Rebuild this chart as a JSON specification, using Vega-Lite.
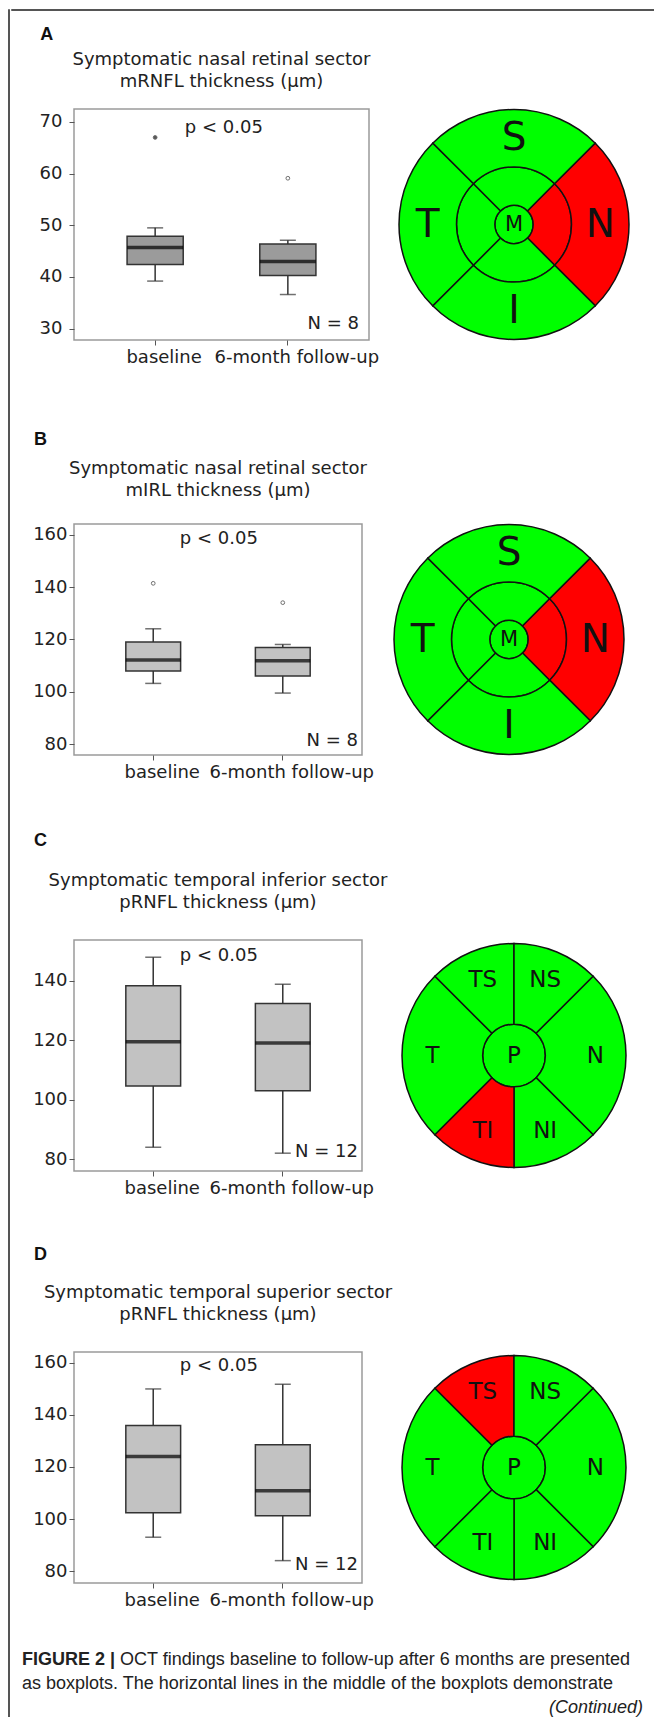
{
  "$schema": "https://vega.github.io/schema/vega-lite/v6.json",
  "padding": {"left": 7, "top": 3, "right": 0, "bottom": 0},
  "background": "white",
  "config": {"view": {"stroke": null}, "font": "DejaVu Sans"},
  "datasets": {
    "boxes": [
      {"panel": "A", "time": "baseline", "lower": 39.2, "q1": 42.4, "median": 45.7, "q3": 47.9, "upper": 49.5},
      {"panel": "A", "time": "6-month follow-up", "lower": 36.6, "q1": 40.3, "median": 43.0, "q3": 46.4, "upper": 47.1},
      {"panel": "B", "time": "baseline", "lower": 103.2, "q1": 107.9, "median": 112.2, "q3": 119.0, "upper": 124.1},
      {"panel": "B", "time": "6-month follow-up", "lower": 99.5, "q1": 106.0, "median": 111.9, "q3": 116.9, "upper": 118.1},
      {"panel": "C", "time": "baseline", "lower": 84.0, "q1": 104.6, "median": 119.5, "q3": 138.4, "upper": 148.0},
      {"panel": "C", "time": "6-month follow-up", "lower": 82.0, "q1": 103.0, "median": 119.1, "q3": 132.4, "upper": 138.9},
      {"panel": "D", "time": "baseline", "lower": 93.0, "q1": 102.4, "median": 124.0, "q3": 135.9, "upper": 150.0},
      {"panel": "D", "time": "6-month follow-up", "lower": 84.0, "q1": 101.3, "median": 110.9, "q3": 128.5, "upper": 151.8}
    ],
    "outliers": [
      {"panel": "A", "time": "baseline", "value": 67.0, "kind": "filled"},
      {"panel": "A", "time": "6-month follow-up", "value": 59.1, "kind": "open"},
      {"panel": "B", "time": "baseline", "value": 141.5, "kind": "open"},
      {"panel": "B", "time": "6-month follow-up", "value": 134.1, "kind": "open"}
    ],
    "notes": [
      {"panel": "A", "p": "p < 0.05", "n": "N = 8"},
      {"panel": "B", "p": "p < 0.05", "n": "N = 8"},
      {"panel": "C", "p": "p < 0.05", "n": "N = 12"},
      {"panel": "D", "p": "p < 0.05", "n": "N = 12"}
    ],
    "macula": [
      {"panel": "A", "t0": 0, "t1": 360, "r0": 0, "r1": 0.5, "status": "normal", "label": "M"},
      {"panel": "A", "t0": -45, "t1": 45, "r0": 0.5, "r1": 1.5, "status": "normal", "label": ""},
      {"panel": "A", "t0": 45, "t1": 135, "r0": 0.5, "r1": 1.5, "status": "significant", "label": ""},
      {"panel": "A", "t0": 135, "t1": 225, "r0": 0.5, "r1": 1.5, "status": "normal", "label": ""},
      {"panel": "A", "t0": 225, "t1": 315, "r0": 0.5, "r1": 1.5, "status": "normal", "label": ""},
      {"panel": "A", "t0": -45, "t1": 45, "r0": 1.5, "r1": 3, "status": "normal", "label": "S"},
      {"panel": "A", "t0": 45, "t1": 135, "r0": 1.5, "r1": 3, "status": "significant", "label": "N"},
      {"panel": "A", "t0": 135, "t1": 225, "r0": 1.5, "r1": 3, "status": "normal", "label": "I"},
      {"panel": "A", "t0": 225, "t1": 315, "r0": 1.5, "r1": 3, "status": "normal", "label": "T"},
      {"panel": "B", "t0": 0, "t1": 360, "r0": 0, "r1": 0.5, "status": "normal", "label": "M"},
      {"panel": "B", "t0": -45, "t1": 45, "r0": 0.5, "r1": 1.5, "status": "normal", "label": ""},
      {"panel": "B", "t0": 45, "t1": 135, "r0": 0.5, "r1": 1.5, "status": "significant", "label": ""},
      {"panel": "B", "t0": 135, "t1": 225, "r0": 0.5, "r1": 1.5, "status": "normal", "label": ""},
      {"panel": "B", "t0": 225, "t1": 315, "r0": 0.5, "r1": 1.5, "status": "normal", "label": ""},
      {"panel": "B", "t0": -45, "t1": 45, "r0": 1.5, "r1": 3, "status": "normal", "label": "S"},
      {"panel": "B", "t0": 45, "t1": 135, "r0": 1.5, "r1": 3, "status": "significant", "label": "N"},
      {"panel": "B", "t0": 135, "t1": 225, "r0": 1.5, "r1": 3, "status": "normal", "label": "I"},
      {"panel": "B", "t0": 225, "t1": 315, "r0": 1.5, "r1": 3, "status": "normal", "label": "T"}
    ],
    "peripapillary": [
      {"panel": "C", "t0": 0, "t1": 360, "r0": 0, "r1": 0.28, "status": "normal", "label": "P"},
      {"panel": "C", "t0": -45, "t1": 0, "r0": 0.28, "r1": 1, "status": "normal", "label": "TS"},
      {"panel": "C", "t0": 0, "t1": 45, "r0": 0.28, "r1": 1, "status": "normal", "label": "NS"},
      {"panel": "C", "t0": 45, "t1": 135, "r0": 0.28, "r1": 1, "status": "normal", "label": "N"},
      {"panel": "C", "t0": 135, "t1": 180, "r0": 0.28, "r1": 1, "status": "normal", "label": "NI"},
      {"panel": "C", "t0": 180, "t1": 225, "r0": 0.28, "r1": 1, "status": "significant", "label": "TI"},
      {"panel": "C", "t0": 225, "t1": 315, "r0": 0.28, "r1": 1, "status": "normal", "label": "T"},
      {"panel": "D", "t0": 0, "t1": 360, "r0": 0, "r1": 0.28, "status": "normal", "label": "P"},
      {"panel": "D", "t0": -45, "t1": 0, "r0": 0.28, "r1": 1, "status": "significant", "label": "TS"},
      {"panel": "D", "t0": 0, "t1": 45, "r0": 0.28, "r1": 1, "status": "normal", "label": "NS"},
      {"panel": "D", "t0": 45, "t1": 135, "r0": 0.28, "r1": 1, "status": "normal", "label": "N"},
      {"panel": "D", "t0": 135, "t1": 180, "r0": 0.28, "r1": 1, "status": "normal", "label": "NI"},
      {"panel": "D", "t0": 180, "t1": 225, "r0": 0.28, "r1": 1, "status": "normal", "label": "TI"},
      {"panel": "D", "t0": 225, "t1": 315, "r0": 0.28, "r1": 1, "status": "normal", "label": "T"}
    ],
    "caption": [
      {"line": 1, "part": "bold", "text": "FIGURE 2 |"},
      {"line": 1, "part": "body1", "text": "OCT findings baseline to follow-up after 6 months are presented"},
      {"line": 2, "part": "body2", "text": "as boxplots. The horizontal lines in the middle of the boxplots demonstrate"},
      {"line": 3, "part": "cont", "text": "(Continued)"}
    ]
  },
  "spacing": 0,
  "hconcat": [
    {"width": 1, "height": 1714, "view": {"stroke": "#555", "strokeWidth": 1}, "data": {"values": [{}]}, "mark": {"type": "text", "text": ""}, "encoding": {}},
    {"spacing": 41, "vconcat": [
      {"spacing": 11, "vconcat": [
        {"width": 646, "height": 1, "view": {"stroke": "#555", "strokeWidth": 1}, "data": {"values": [{}]}, "mark": {"type": "text", "text": ""}, "encoding": {}},
        {"spacing": 7, "hconcat": [
          {"width": 13, "height": 1, "data": {"values": [{}]}, "mark": {"type": "text", "text": ""}, "encoding": {}},
          {"spacing": 50, "vconcat": [
            {"spacing": 64, "vconcat": [
              {"title": {"text": "A", "anchor": "start", "frame": "bounds", "dx": 2, "offset": 6, "font": "Liberation Sans", "fontSize": 18, "fontWeight": "bold", "color": "#111"},
               "bounds": "flush", "spacing": 29.5,
               "hconcat": [
                {"width": 295, "height": 231,
                 "title": {"text": ["Symptomatic nasal retinal sector", "mRNFL thickness (μm)"], "anchor": "middle", "frame": "group", "font": "DejaVu Sans", "fontSize": 18, "fontWeight": "normal", "color": "#222", "lineHeight": 22, "offset": 18},
                 "view": {"stroke": "#9a9a9a", "strokeWidth": 1.5},
                 "resolve": {"scale": {"x": "independent"}},
                 "layer": [
                  {"data": {"name": "boxes"}, "transform": [{"filter": "datum.panel === 'A'"}],
                   "layer": [
                    {"mark": {"type": "rule", "color": "#333", "strokeWidth": 1.5},
                     "encoding": {"x": {"field": "time", "type": "nominal", "scale": {"domain": ["baseline", "6-month follow-up"], "paddingInner": 0.577, "paddingOuter": 0.4}, "axis": {"title": null, "domain": false, "tickSize": 5, "tickColor": "#555", "labelAngle": 0, "labelFont": "DejaVu Sans", "labelFontSize": 18, "labelColor": "#222", "labelPadding": 3, "labelOffset": 9}},
                      "y": {"field": "lower", "type": "quantitative", "scale": {"domain": [27.8, 72.5], "nice": false, "zero": false}, "axis": {"title": null, "values": [30, 40, 50, 60, 70], "domain": false, "grid": false, "tickSize": 5, "tickColor": "#555", "labelFont": "DejaVu Sans", "labelFontSize": 18, "labelColor": "#222", "labelPadding": 7}},
                      "y2": {"field": "q1"}}},
                    {"mark": {"type": "rule", "color": "#333", "strokeWidth": 1.5},
                     "encoding": {"x": {"field": "time", "type": "nominal"}, "y": {"field": "q3", "type": "quantitative"}, "y2": {"field": "upper"}}},
                    {"mark": {"type": "tick", "color": "#333", "size": 16, "thickness": 1.5, "orient": "horizontal"},
                     "encoding": {"x": {"field": "time", "type": "nominal"}, "y": {"field": "lower", "type": "quantitative"}}},
                    {"mark": {"type": "tick", "color": "#333", "size": 16, "thickness": 1.5, "orient": "horizontal"},
                     "encoding": {"x": {"field": "time", "type": "nominal"}, "y": {"field": "upper", "type": "quantitative"}}},
                    {"mark": {"type": "bar", "fill": "#9b9b9b", "stroke": "#333", "strokeWidth": 1.5},
                     "encoding": {"x": {"field": "time", "type": "nominal"}, "y": {"field": "q1", "type": "quantitative"}, "y2": {"field": "q3"}}},
                    {"mark": {"type": "tick", "color": "#000", "size": 56, "thickness": 3.5, "orient": "horizontal"},
                     "encoding": {"x": {"field": "time", "type": "nominal"}, "y": {"field": "median", "type": "quantitative"}}},
                    {"data": {"name": "outliers"}, "transform": [{"filter": "datum.panel === 'A'"}], "mark": {"type": "point", "filled": true, "size": 14, "stroke": "#333", "strokeWidth": 1},
                     "encoding": {"x": {"field": "time", "type": "nominal"}, "y": {"field": "value", "type": "quantitative"}, "fill": {"field": "kind", "type": "nominal", "scale": {"domain": ["filled", "open"], "range": ["#111111", "#ffffff"]}, "legend": null}}}
                   ]},
                  {"data": {"name": "notes"}, "transform": [{"filter": "datum.panel === 'A'"}],
                   "layer": [
                    {"mark": {"type": "text", "font": "DejaVu Sans", "fontSize": 18, "color": "#222", "align": "center", "baseline": "middle"},
                     "encoding": {"x": {"datum": 0.508, "type": "quantitative", "scale": {"domain": [0, 1], "nice": false, "zero": false}, "axis": null}, "y": {"datum": 68.8, "type": "quantitative"}, "text": {"field": "p"}}},
                    {"mark": {"type": "text", "font": "DejaVu Sans", "fontSize": 18, "color": "#222", "align": "right", "baseline": "middle"},
                     "encoding": {"x": {"datum": 0.966, "type": "quantitative"}, "y": {"datum": 30.85, "type": "quantitative"}, "text": {"field": "n"}}}
                   ]}
                 ]},
                {"width": 231, "height": 231, "view": {"stroke": null},
                 "data": {"name": "macula"}, "transform": [{"filter": "datum.panel === 'A'"}],
                 "layer": [
                  {"mark": {"type": "arc", "stroke": "#111", "strokeWidth": 1.5},
                   "encoding": {"theta": {"field": "t0", "type": "quantitative", "stack": null, "scale": {"domain": [0, 360], "range": [0, 6.283185307179586]}}, "theta2": {"field": "t1"},
                    "radius": {"field": "r1", "type": "quantitative", "scale": {"type": "linear", "domain": [0, 3], "range": [0, 115], "zero": true}}, "radius2": {"field": "r0"},
                    "color": {"field": "status", "type": "nominal", "scale": {"domain": ["normal", "significant"], "range": ["#00ff00", "#ff0000"]}, "legend": null}}},
                  {"transform": [{"filter": "datum.label !== '' && datum.r0 > 0"}, {"calculate": "(datum.t0 + datum.t1) / 2", "as": "tm"}, {"calculate": "(datum.r0 + datum.r1) / 2", "as": "rm"}],
                   "mark": {"type": "text", "font": "DejaVu Sans", "fontSize": 39, "color": "#111", "align": "center", "baseline": "middle"},
                   "encoding": {"theta": {"field": "tm", "type": "quantitative", "stack": null}, "radius": {"field": "rm", "type": "quantitative"}, "text": {"field": "label"}}},
                  {"transform": [{"filter": "datum.r0 === 0"}],
                   "mark": {"type": "text", "font": "DejaVu Sans", "fontSize": 21, "color": "#111", "align": "center", "baseline": "middle"},
                   "encoding": {"theta": {"field": "t0", "type": "quantitative", "stack": null}, "radius": {"field": "r0", "type": "quantitative"}, "text": {"field": "label"}}}
                 ]}
               ]},
              {"title": {"text": "B", "anchor": "start", "frame": "bounds", "dx": 2, "offset": 10, "font": "Liberation Sans", "fontSize": 18, "fontWeight": "bold", "color": "#111"},
               "bounds": "flush", "spacing": 31.5,
               "hconcat": [
                {"width": 288, "height": 231,
                 "title": {"text": ["Symptomatic nasal retinal sector", "mIRL thickness (μm)"], "anchor": "middle", "frame": "group", "font": "DejaVu Sans", "fontSize": 18, "fontWeight": "normal", "color": "#222", "lineHeight": 22, "offset": 24},
                 "view": {"stroke": "#9a9a9a", "strokeWidth": 1.5},
                 "resolve": {"scale": {"x": "independent"}},
                 "layer": [
                  {"data": {"name": "boxes"}, "transform": [{"filter": "datum.panel === 'B'"}],
                   "layer": [
                    {"mark": {"type": "rule", "color": "#333", "strokeWidth": 1.5},
                     "encoding": {"x": {"field": "time", "type": "nominal", "scale": {"domain": ["baseline", "6-month follow-up"], "paddingInner": 0.577, "paddingOuter": 0.4}, "axis": {"title": null, "domain": false, "tickSize": 5, "tickColor": "#555", "labelAngle": 0, "labelFont": "DejaVu Sans", "labelFontSize": 18, "labelColor": "#222", "labelPadding": 3, "labelOffset": 9}},
                      "y": {"field": "lower", "type": "quantitative", "scale": {"domain": [75.8, 164.2], "nice": false, "zero": false}, "axis": {"title": null, "values": [80, 100, 120, 140, 160], "domain": false, "grid": false, "tickSize": 5, "tickColor": "#555", "labelFont": "DejaVu Sans", "labelFontSize": 18, "labelColor": "#222", "labelPadding": 2}},
                      "y2": {"field": "q1"}}},
                    {"mark": {"type": "rule", "color": "#333", "strokeWidth": 1.5},
                     "encoding": {"x": {"field": "time", "type": "nominal"}, "y": {"field": "q3", "type": "quantitative"}, "y2": {"field": "upper"}}},
                    {"mark": {"type": "tick", "color": "#333", "size": 16, "thickness": 1.5, "orient": "horizontal"},
                     "encoding": {"x": {"field": "time", "type": "nominal"}, "y": {"field": "lower", "type": "quantitative"}}},
                    {"mark": {"type": "tick", "color": "#333", "size": 16, "thickness": 1.5, "orient": "horizontal"},
                     "encoding": {"x": {"field": "time", "type": "nominal"}, "y": {"field": "upper", "type": "quantitative"}}},
                    {"mark": {"type": "bar", "fill": "#c2c2c2", "stroke": "#333", "strokeWidth": 1.5},
                     "encoding": {"x": {"field": "time", "type": "nominal"}, "y": {"field": "q1", "type": "quantitative"}, "y2": {"field": "q3"}}},
                    {"mark": {"type": "tick", "color": "#000", "size": 55, "thickness": 3.5, "orient": "horizontal"},
                     "encoding": {"x": {"field": "time", "type": "nominal"}, "y": {"field": "median", "type": "quantitative"}}},
                    {"data": {"name": "outliers"}, "transform": [{"filter": "datum.panel === 'B'"}], "mark": {"type": "point", "filled": true, "size": 14, "stroke": "#333", "strokeWidth": 1},
                     "encoding": {"x": {"field": "time", "type": "nominal"}, "y": {"field": "value", "type": "quantitative"}, "fill": {"field": "kind", "type": "nominal", "scale": {"domain": ["filled", "open"], "range": ["#111111", "#ffffff"]}, "legend": null}}}
                   ]},
                  {"data": {"name": "notes"}, "transform": [{"filter": "datum.panel === 'B'"}],
                   "layer": [
                    {"mark": {"type": "text", "font": "DejaVu Sans", "fontSize": 18, "color": "#222", "align": "center", "baseline": "middle"},
                     "encoding": {"x": {"datum": 0.503, "type": "quantitative", "scale": {"domain": [0, 1], "nice": false, "zero": false}, "axis": null}, "y": {"datum": 158.5, "type": "quantitative"}, "text": {"field": "p"}}},
                    {"mark": {"type": "text", "font": "DejaVu Sans", "fontSize": 18, "color": "#222", "align": "right", "baseline": "middle"},
                     "encoding": {"x": {"datum": 0.986, "type": "quantitative"}, "y": {"datum": 81.3, "type": "quantitative"}, "text": {"field": "n"}}}
                   ]}
                 ]},
                {"width": 231, "height": 231, "view": {"stroke": null},
                 "data": {"name": "macula"}, "transform": [{"filter": "datum.panel === 'B'"}],
                 "layer": [
                  {"mark": {"type": "arc", "stroke": "#111", "strokeWidth": 1.5},
                   "encoding": {"theta": {"field": "t0", "type": "quantitative", "stack": null, "scale": {"domain": [0, 360], "range": [0, 6.283185307179586]}}, "theta2": {"field": "t1"},
                    "radius": {"field": "r1", "type": "quantitative", "scale": {"type": "linear", "domain": [0, 3], "range": [0, 115], "zero": true}}, "radius2": {"field": "r0"},
                    "color": {"field": "status", "type": "nominal", "scale": {"domain": ["normal", "significant"], "range": ["#00ff00", "#ff0000"]}, "legend": null}}},
                  {"transform": [{"filter": "datum.label !== '' && datum.r0 > 0"}, {"calculate": "(datum.t0 + datum.t1) / 2", "as": "tm"}, {"calculate": "(datum.r0 + datum.r1) / 2", "as": "rm"}],
                   "mark": {"type": "text", "font": "DejaVu Sans", "fontSize": 39, "color": "#111", "align": "center", "baseline": "middle"},
                   "encoding": {"theta": {"field": "tm", "type": "quantitative", "stack": null}, "radius": {"field": "rm", "type": "quantitative"}, "text": {"field": "label"}}},
                  {"transform": [{"filter": "datum.r0 === 0"}],
                   "mark": {"type": "text", "font": "DejaVu Sans", "fontSize": 21, "color": "#111", "align": "center", "baseline": "middle"},
                   "encoding": {"theta": {"field": "t0", "type": "quantitative", "stack": null}, "radius": {"field": "r0", "type": "quantitative"}, "text": {"field": "label"}}}
                 ]}
               ]}
            ]},
            {"spacing": 48, "vconcat": [
              {"title": {"text": "C", "anchor": "start", "frame": "bounds", "dx": 2, "offset": 21, "font": "Liberation Sans", "fontSize": 18, "fontWeight": "bold", "color": "#111"},
               "bounds": "flush", "spacing": 36.5,
               "hconcat": [
                {"width": 288, "height": 231,
                 "title": {"text": ["Symptomatic temporal inferior sector", "pRNFL thickness (μm)"], "anchor": "middle", "frame": "group", "font": "DejaVu Sans", "fontSize": 18, "fontWeight": "normal", "color": "#222", "lineHeight": 22, "offset": 28},
                 "view": {"stroke": "#9a9a9a", "strokeWidth": 1.5},
                 "resolve": {"scale": {"x": "independent"}},
                 "layer": [
                  {"data": {"name": "boxes"}, "transform": [{"filter": "datum.panel === 'C'"}],
                   "layer": [
                    {"mark": {"type": "rule", "color": "#333", "strokeWidth": 1.5},
                     "encoding": {"x": {"field": "time", "type": "nominal", "scale": {"domain": ["baseline", "6-month follow-up"], "paddingInner": 0.577, "paddingOuter": 0.4}, "axis": {"title": null, "domain": false, "tickSize": 5, "tickColor": "#555", "labelAngle": 0, "labelFont": "DejaVu Sans", "labelFontSize": 18, "labelColor": "#222", "labelPadding": 3, "labelOffset": 9}},
                      "y": {"field": "lower", "type": "quantitative", "scale": {"domain": [76, 153.8], "nice": false, "zero": false}, "axis": {"title": null, "values": [80, 100, 120, 140], "domain": false, "grid": false, "tickSize": 5, "tickColor": "#555", "labelFont": "DejaVu Sans", "labelFontSize": 18, "labelColor": "#222", "labelPadding": 2}},
                      "y2": {"field": "q1"}}},
                    {"mark": {"type": "rule", "color": "#333", "strokeWidth": 1.5},
                     "encoding": {"x": {"field": "time", "type": "nominal"}, "y": {"field": "q3", "type": "quantitative"}, "y2": {"field": "upper"}}},
                    {"mark": {"type": "tick", "color": "#333", "size": 16, "thickness": 1.5, "orient": "horizontal"},
                     "encoding": {"x": {"field": "time", "type": "nominal"}, "y": {"field": "lower", "type": "quantitative"}}},
                    {"mark": {"type": "tick", "color": "#333", "size": 16, "thickness": 1.5, "orient": "horizontal"},
                     "encoding": {"x": {"field": "time", "type": "nominal"}, "y": {"field": "upper", "type": "quantitative"}}},
                    {"mark": {"type": "bar", "fill": "#c2c2c2", "stroke": "#333", "strokeWidth": 1.5},
                     "encoding": {"x": {"field": "time", "type": "nominal"}, "y": {"field": "q1", "type": "quantitative"}, "y2": {"field": "q3"}}},
                    {"mark": {"type": "tick", "color": "#000", "size": 55, "thickness": 3.5, "orient": "horizontal"},
                     "encoding": {"x": {"field": "time", "type": "nominal"}, "y": {"field": "median", "type": "quantitative"}}}
                   ]},
                  {"data": {"name": "notes"}, "transform": [{"filter": "datum.panel === 'C'"}],
                   "layer": [
                    {"mark": {"type": "text", "font": "DejaVu Sans", "fontSize": 18, "color": "#222", "align": "center", "baseline": "middle"},
                     "encoding": {"x": {"datum": 0.503, "type": "quantitative", "scale": {"domain": [0, 1], "nice": false, "zero": false}, "axis": null}, "y": {"datum": 148.4, "type": "quantitative"}, "text": {"field": "p"}}},
                    {"mark": {"type": "text", "font": "DejaVu Sans", "fontSize": 18, "color": "#222", "align": "right", "baseline": "middle"},
                     "encoding": {"x": {"datum": 0.986, "type": "quantitative"}, "y": {"datum": 82.3, "type": "quantitative"}, "text": {"field": "n"}}}
                   ]}
                 ]},
                {"width": 231, "height": 231, "view": {"stroke": null},
                 "data": {"name": "peripapillary"}, "transform": [{"filter": "datum.panel === 'C'"}],
                 "layer": [
                  {"mark": {"type": "arc", "stroke": "#111", "strokeWidth": 1.5},
                   "encoding": {"theta": {"field": "t0", "type": "quantitative", "stack": null, "scale": {"domain": [0, 360], "range": [0, 6.283185307179586]}}, "theta2": {"field": "t1"},
                    "radius": {"field": "r1", "type": "quantitative", "scale": {"type": "linear", "domain": [0, 1], "range": [0, 112], "zero": true}}, "radius2": {"field": "r0"},
                    "color": {"field": "status", "type": "nominal", "scale": {"domain": ["normal", "significant"], "range": ["#00ff00", "#ff0000"]}, "legend": null}}},
                  {"transform": [{"filter": "datum.r0 > 0"}, {"calculate": "(datum.t0 + datum.t1) / 2", "as": "tm"}, {"calculate": "datum.r0 + 0.62 * (datum.r1 - datum.r0)", "as": "rm"}],
                   "mark": {"type": "text", "font": "DejaVu Sans", "fontSize": 23, "color": "#111", "align": "center", "baseline": "middle"},
                   "encoding": {"theta": {"field": "tm", "type": "quantitative", "stack": null}, "radius": {"field": "rm", "type": "quantitative"}, "text": {"field": "label"}}},
                  {"transform": [{"filter": "datum.r0 === 0"}],
                   "mark": {"type": "text", "font": "DejaVu Sans", "fontSize": 23, "color": "#111", "align": "center", "baseline": "middle"},
                   "encoding": {"theta": {"field": "t0", "type": "quantitative", "stack": null}, "radius": {"field": "r0", "type": "quantitative"}, "text": {"field": "label"}}}
                 ]}
               ]},
              {"title": {"text": "D", "anchor": "start", "frame": "bounds", "dx": 2, "offset": 19, "font": "Liberation Sans", "fontSize": 18, "fontWeight": "bold", "color": "#111"},
               "bounds": "flush", "spacing": 36.5,
               "hconcat": [
                {"width": 288, "height": 231,
                 "title": {"text": ["Symptomatic temporal superior sector", "pRNFL thickness (μm)"], "anchor": "middle", "frame": "group", "font": "DejaVu Sans", "fontSize": 18, "fontWeight": "normal", "color": "#222", "lineHeight": 22, "offset": 28},
                 "view": {"stroke": "#9a9a9a", "strokeWidth": 1.5},
                 "resolve": {"scale": {"x": "independent"}},
                 "layer": [
                  {"data": {"name": "boxes"}, "transform": [{"filter": "datum.panel === 'D'"}],
                   "layer": [
                    {"mark": {"type": "rule", "color": "#333", "strokeWidth": 1.5},
                     "encoding": {"x": {"field": "time", "type": "nominal", "scale": {"domain": ["baseline", "6-month follow-up"], "paddingInner": 0.577, "paddingOuter": 0.4}, "axis": {"title": null, "domain": false, "tickSize": 5, "tickColor": "#555", "labelAngle": 0, "labelFont": "DejaVu Sans", "labelFontSize": 18, "labelColor": "#222", "labelPadding": 3, "labelOffset": 9}},
                      "y": {"field": "lower", "type": "quantitative", "scale": {"domain": [75.4, 164.2], "nice": false, "zero": false}, "axis": {"title": null, "values": [80, 100, 120, 140, 160], "domain": false, "grid": false, "tickSize": 5, "tickColor": "#555", "labelFont": "DejaVu Sans", "labelFontSize": 18, "labelColor": "#222", "labelPadding": 2}},
                      "y2": {"field": "q1"}}},
                    {"mark": {"type": "rule", "color": "#333", "strokeWidth": 1.5},
                     "encoding": {"x": {"field": "time", "type": "nominal"}, "y": {"field": "q3", "type": "quantitative"}, "y2": {"field": "upper"}}},
                    {"mark": {"type": "tick", "color": "#333", "size": 16, "thickness": 1.5, "orient": "horizontal"},
                     "encoding": {"x": {"field": "time", "type": "nominal"}, "y": {"field": "lower", "type": "quantitative"}}},
                    {"mark": {"type": "tick", "color": "#333", "size": 16, "thickness": 1.5, "orient": "horizontal"},
                     "encoding": {"x": {"field": "time", "type": "nominal"}, "y": {"field": "upper", "type": "quantitative"}}},
                    {"mark": {"type": "bar", "fill": "#c2c2c2", "stroke": "#333", "strokeWidth": 1.5},
                     "encoding": {"x": {"field": "time", "type": "nominal"}, "y": {"field": "q1", "type": "quantitative"}, "y2": {"field": "q3"}}},
                    {"mark": {"type": "tick", "color": "#000", "size": 55, "thickness": 3.5, "orient": "horizontal"},
                     "encoding": {"x": {"field": "time", "type": "nominal"}, "y": {"field": "median", "type": "quantitative"}}}
                   ]},
                  {"data": {"name": "notes"}, "transform": [{"filter": "datum.panel === 'D'"}],
                   "layer": [
                    {"mark": {"type": "text", "font": "DejaVu Sans", "fontSize": 18, "color": "#222", "align": "center", "baseline": "middle"},
                     "encoding": {"x": {"datum": 0.503, "type": "quantitative", "scale": {"domain": [0, 1], "nice": false, "zero": false}, "axis": null}, "y": {"datum": 158.7, "type": "quantitative"}, "text": {"field": "p"}}},
                    {"mark": {"type": "text", "font": "DejaVu Sans", "fontSize": 18, "color": "#222", "align": "right", "baseline": "middle"},
                     "encoding": {"x": {"datum": 0.986, "type": "quantitative"}, "y": {"datum": 82.3, "type": "quantitative"}, "text": {"field": "n"}}}
                   ]}
                 ]},
                {"width": 231, "height": 231, "view": {"stroke": null},
                 "data": {"name": "peripapillary"}, "transform": [{"filter": "datum.panel === 'D'"}],
                 "layer": [
                  {"mark": {"type": "arc", "stroke": "#111", "strokeWidth": 1.5},
                   "encoding": {"theta": {"field": "t0", "type": "quantitative", "stack": null, "scale": {"domain": [0, 360], "range": [0, 6.283185307179586]}}, "theta2": {"field": "t1"},
                    "radius": {"field": "r1", "type": "quantitative", "scale": {"type": "linear", "domain": [0, 1], "range": [0, 112], "zero": true}}, "radius2": {"field": "r0"},
                    "color": {"field": "status", "type": "nominal", "scale": {"domain": ["normal", "significant"], "range": ["#00ff00", "#ff0000"]}, "legend": null}}},
                  {"transform": [{"filter": "datum.r0 > 0"}, {"calculate": "(datum.t0 + datum.t1) / 2", "as": "tm"}, {"calculate": "datum.r0 + 0.62 * (datum.r1 - datum.r0)", "as": "rm"}],
                   "mark": {"type": "text", "font": "DejaVu Sans", "fontSize": 23, "color": "#111", "align": "center", "baseline": "middle"},
                   "encoding": {"theta": {"field": "tm", "type": "quantitative", "stack": null}, "radius": {"field": "rm", "type": "quantitative"}, "text": {"field": "label"}}},
                  {"transform": [{"filter": "datum.r0 === 0"}],
                   "mark": {"type": "text", "font": "DejaVu Sans", "fontSize": 23, "color": "#111", "align": "center", "baseline": "middle"},
                   "encoding": {"theta": {"field": "t0", "type": "quantitative", "stack": null}, "radius": {"field": "r0", "type": "quantitative"}, "text": {"field": "label"}}}
                 ]}
               ]}
            ]}
          ]}
        ]}
      ]},
      {"width": 632, "height": 48, "view": {"stroke": null},
       "data": {"name": "caption"},
       "layer": [
        {"transform": [{"filter": "datum.part === 'bold'"}], "mark": {"type": "text", "font": "Liberation Sans", "fontSize": 18, "fontWeight": "bold", "color": "#222", "align": "left", "baseline": "middle", "dx": 11},
         "encoding": {"x": {"datum": 0, "type": "quantitative", "scale": {"domain": [0, 1], "nice": false, "zero": false}, "axis": null}, "y": {"field": "line", "type": "ordinal", "scale": {"type": "point", "padding": 0, "domain": [1, 2, 3]}, "axis": null}, "text": {"field": "text"}}},
        {"transform": [{"filter": "datum.part === 'body1'"}], "mark": {"type": "text", "font": "Liberation Sans", "fontSize": 18, "color": "#222", "align": "left", "baseline": "middle", "dx": 109},
         "encoding": {"x": {"datum": 0, "type": "quantitative"}, "y": {"field": "line", "type": "ordinal"}, "text": {"field": "text"}}},
        {"transform": [{"filter": "datum.part === 'body2'"}], "mark": {"type": "text", "font": "Liberation Sans", "fontSize": 18, "color": "#222", "align": "left", "baseline": "middle", "dx": 11},
         "encoding": {"x": {"datum": 0, "type": "quantitative"}, "y": {"field": "line", "type": "ordinal"}, "text": {"field": "text"}}},
        {"transform": [{"filter": "datum.part === 'cont'"}], "mark": {"type": "text", "font": "Liberation Sans", "fontSize": 18, "fontStyle": "italic", "color": "#222", "align": "right", "baseline": "middle"},
         "encoding": {"x": {"datum": 1, "type": "quantitative"}, "y": {"field": "line", "type": "ordinal"}, "text": {"field": "text"}}}
       ]}
    ]}
  ]
}
